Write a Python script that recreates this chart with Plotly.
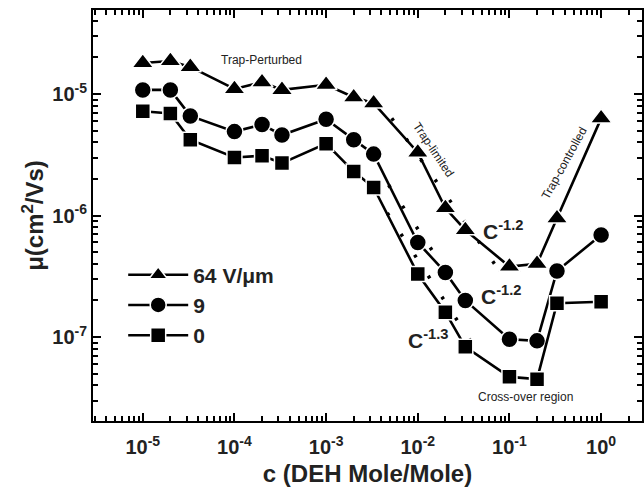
import math
import plotly.graph_objects as go

conc = [1e-5, 2e-5, 3.3e-5, 1e-4, 2e-4, 3.3e-4, 1e-3, 2e-3, 3.3e-3,
        1e-2, 2e-2, 3.3e-2, 1e-1, 2e-1, 3.3e-1, 1.0]
mu_64 = [1.8e-5, 1.87e-5, 1.67e-5, 1.1e-5, 1.25e-5, 1.08e-5, 1.19e-5, 9.4e-6, 8.4e-6,
         3.3e-6, 1.15e-6, 7.6e-7, 3.8e-7, 4.0e-7, 9.5e-7, 6.3e-6]
mu_9 = [1.08e-5, 1.08e-5, 6.6e-6, 4.9e-6, 5.6e-6, 4.6e-6, 6.2e-6, 4.2e-6, 3.2e-6,
        6.0e-7, 3.4e-7, 2.0e-7, 9.6e-8, 9.3e-8, 3.5e-7, 6.9e-7]
mu_0 = [7.2e-6, 6.9e-6, 4.2e-6, 3.0e-6, 3.1e-6, 2.7e-6, 3.9e-6, 2.3e-6, 1.7e-6,
        3.3e-7, 1.6e-7, 8.3e-8, 4.7e-8, 4.5e-8, 1.9e-7, 1.95e-7]
series_names = ["64 V/\u03bcm", "9", "0"]

x_tickvals = [1e-5, 1e-4, 1e-3, 1e-2, 1e-1, 1.0]
x_ticktext = ["10<sup>-5</sup>", "10<sup>-4</sup>", "10<sup>-3</sup>",
              "10<sup>-2</sup>", "10<sup>-1</sup>", "10<sup>0</sup>"]
y_tickvals = [1e-7, 1e-6, 1e-5]
y_ticktext = ["10<sup>-7</sup>", "10<sup>-6</sup>", "10<sup>-5</sup>"]

# power-law guide lines (end points)
fit64_x = [5.2e-3, 8.0e-2]
fit64_y = [6.3e-6, 3.4e-7]
fit9_x = [4.8e-3, 2.65e-2]
fit9_y = [1.78e-6, 2.58e-7]
fit0_x = [3.3e-3, 5.0e-2]
fit0_y = [1.56e-6, 6.7e-8]

FONT = "Liberation Sans, Arial, sans-serif"
XR = [-5.543, 0.446]
YR = [-7.691, -4.309]

# minor tick positions (2..9 in each decade), in log10 units for linear overlay axes
x_minor_log = [math.log10(m * 10.0 ** e) for e in range(-6, 1) for m in range(2, 10)]
y_minor_log = [math.log10(m * 10.0 ** e) for e in range(-9, -3) for m in range(2, 10)]

fig = go.Figure()
for fx, fy in [(fit64_x, fit64_y), (fit9_x, fit9_y), (fit0_x, fit0_y)]:
    fig.add_trace(go.Scatter(x=fx, y=fy, mode="lines", showlegend=False,
                             line=dict(color="black", width=3.5, dash="3px,22px")))

for name, ys, sym, size in [(series_names[0], mu_64, "triangle-up", 19),
                            (series_names[1], mu_9, "circle", 17),
                            (series_names[2], mu_0, "square", 15)]:
    fig.add_trace(go.Scatter(
        x=conc, y=ys, mode="lines+markers", name=name,
        line=dict(color="black", width=2.6),
        marker=dict(symbol=sym, size=size, color="black",
                    line=dict(color="white", width=1.5)),
    ))

# invisible traces that activate the minor-tick overlay axes
for xa, ya in [("x2", "y2"), ("x3", "y3")]:
    fig.add_trace(go.Scatter(x=[-3], y=[-6], xaxis=xa, yaxis=ya, mode="markers",
                             marker=dict(opacity=0), showlegend=False, hoverinfo="skip"))

ann_plain = dict(showarrow=False, font=dict(family=FONT, size=12, color="#222"))
ann_bold = dict(showarrow=False, font=dict(family=FONT, size=21, color="#222", weight="bold"))
fig.add_annotation(x=-3.707, y=-4.72, xref="x", yref="y", text="Trap-Perturbed", **ann_plain)
fig.add_annotation(x=-1.826, y=-5.46, xref="x", yref="y", text="Trap-limited", textangle=56, **ann_plain)
fig.add_annotation(x=-0.402, y=-5.568, xref="x", yref="y", text="Trap-controlled", textangle=-61, **ann_plain)
fig.add_annotation(x=-0.826, y=-7.49, xref="x", yref="y", text="Cross-over region", **ann_plain)
fig.add_annotation(x=-1.07, y=-6.12, xref="x", yref="y", text="C<sup>-1.2</sup>", **ann_bold)
fig.add_annotation(x=-1.09, y=-6.655, xref="x", yref="y", text="C<sup>-1.2</sup>", **ann_bold)
fig.add_annotation(x=-1.89, y=-7.02, xref="x", yref="y", text="C<sup>-1.3</sup>", **ann_bold)

axis_common = dict(
    type="log", showgrid=False, zeroline=False,
    showline=True, linecolor="black", linewidth=2, mirror="ticks",
    ticks="inside", ticklen=8, tickwidth=2, tickcolor="black",
    tickfont=dict(family=FONT, size=20, color="#222", weight="bold"),
)
minor_common = dict(type="linear", tickmode="array", showticklabels=False,
                    ticks="inside", ticklen=5, tickwidth=2, tickcolor="black",
                    showline=False, showgrid=False, zeroline=False)
fig.update_layout(
    xaxis=dict(range=XR, tickmode="array", tickvals=x_tickvals, ticktext=x_ticktext,
               ticklabelstandoff=7,
               title=dict(text="c (DEH Mole/Mole)", standoff=8,
                          font=dict(family=FONT, size=24, color="#222", weight="bold")),
               **axis_common),
    yaxis=dict(range=YR, tickmode="array", tickvals=y_tickvals, ticktext=y_ticktext,
               title=dict(text="\u03bc(cm<sup>2</sup>/Vs)", standoff=2,
                          font=dict(family=FONT, size=24, color="#222", weight="bold")),
               **axis_common),
    xaxis2=dict(range=XR, overlaying="x", anchor="y2", side="bottom",
                tickvals=x_minor_log, **minor_common),
    yaxis2=dict(range=YR, overlaying="y", anchor="x2", side="left",
                tickvals=y_minor_log, **minor_common),
    xaxis3=dict(range=XR, overlaying="x", anchor="y3", side="top",
                tickvals=x_minor_log, **minor_common),
    yaxis3=dict(range=YR, overlaying="y", anchor="x3", side="right",
                tickvals=y_minor_log, **minor_common),
    width=644, height=496, plot_bgcolor="rgba(0,0,0,0)", paper_bgcolor="white",
    margin=dict(l=93, r=0, t=10, b=75),
    legend=dict(x=0.055, y=0.405, xanchor="left", yanchor="top", bgcolor="rgba(0,0,0,0)",
                font=dict(family=FONT, size=21, color="#222", weight="bold"),
                itemwidth=60, tracegroupgap=0),
)
fig.write_html("out.html")
